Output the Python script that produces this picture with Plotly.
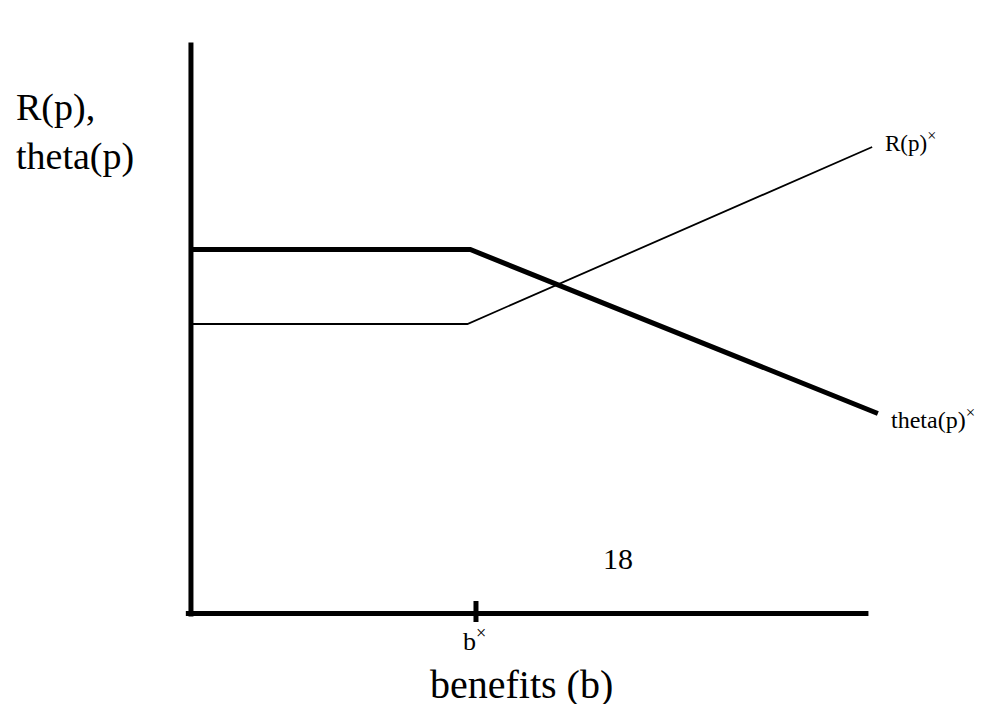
import plotly.graph_objects as go

# ---- data ----
theta_x = [0.0, 0.98, 2.41]
theta_y = [3.64, 3.64, 2.0]
r_x = [0.0, 0.97, 2.39]
r_y = [2.895, 2.895, 4.665]
b_star = 1.0
x_axis_end = 2.377
y_axis_top = 5.71

W, H = 990, 704
# plot area = whole page; data ranges chosen so origin sits at the axes corner
x_range = [-0.670, 2.8035]
y_range = [-0.905, 6.135]

def px(x):
    return x / W

def py(y):
    return 1 - y / H

FONT = "Liberation Serif"

fig = go.Figure()
fig.add_trace(go.Scatter(x=theta_x, y=theta_y, mode="lines",
                         line=dict(color="black", width=5), hoverinfo="skip"))
fig.add_trace(go.Scatter(x=r_x, y=r_y, mode="lines",
                         line=dict(color="black", width=1.8), hoverinfo="skip"))

shapes = [
    dict(type="line", xref="x", yref="y", x0=0, x1=0, y0=-0.03, y1=y_axis_top,
         line=dict(color="black", width=5)),
    dict(type="line", xref="x", yref="y", x0=-0.018, x1=x_axis_end, y0=0, y1=0,
         line=dict(color="black", width=5)),
    dict(type="line", xref="x", yref="y", x0=b_star, x1=b_star, y0=0.125, y1=-0.085,
         line=dict(color="black", width=5)),
]

annotations = [
    dict(text="R(p),<br>theta(p)", x=px(14), y=py(132), xref="paper", yref="paper",
         xanchor="left", yanchor="middle", align="left", showarrow=False,
         font=dict(family=FONT, size=38, color="black")),
    dict(text="R(p)<sup>×</sup>", x=px(883), y=py(141), xref="paper", yref="paper",
         xanchor="left", yanchor="middle", showarrow=False,
         font=dict(family=FONT, size=23, color="black")),
    dict(text="theta(p)<sup>×</sup>", x=px(889), y=py(418), xref="paper", yref="paper",
         xanchor="left", yanchor="middle", showarrow=False,
         font=dict(family=FONT, size=24, color="black")),
    dict(text="b<sup>×</sup>", x=px(474), y=py(639), xref="paper", yref="paper",
         xanchor="center", yanchor="middle", showarrow=False,
         font=dict(family=FONT, size=26, color="black")),
    dict(text="18", x=px(618), y=py(558), xref="paper", yref="paper",
         xanchor="center", yanchor="middle", showarrow=False,
         font=dict(family=FONT, size=30, color="black")),
    dict(text="benefits (b)", x=px(521), y=py(684), xref="paper", yref="paper",
         xanchor="center", yanchor="middle", showarrow=False,
         font=dict(family=FONT, size=40, color="black")),
]

fig.update_layout(
    width=W, height=H, autosize=False,
    margin=dict(l=0, r=0, t=0, b=0, pad=0),
    paper_bgcolor="white", plot_bgcolor="white",
    showlegend=False,
    xaxis=dict(range=x_range, visible=False, fixedrange=True),
    yaxis=dict(range=y_range, visible=False, fixedrange=True),
    shapes=shapes,
    annotations=annotations,
)

fig.write_html(
    "out.html",
    config={"displayModeBar": False},
    post_script="document.body.style.margin='0px';document.body.style.overflow='hidden';",
)
